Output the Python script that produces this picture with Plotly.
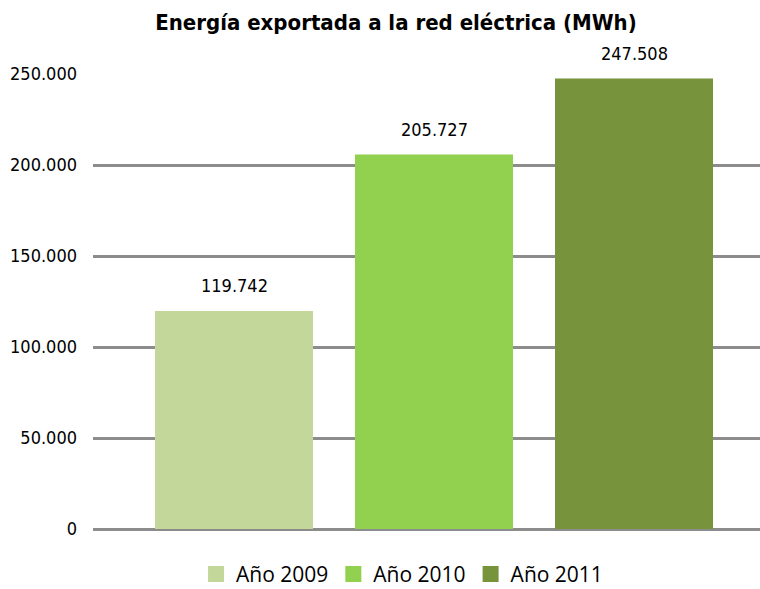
import plotly.graph_objects as go

series = ["Año 2009", "Año 2010", "Año 2011"]
positions = [0, 1, 2]
values = [119742, 205727, 247508]
labels = ["119.742", "205.727", "247.508"]
colors = ["#C4D79B", "#92D050", "#77933C"]
tickvals = [0, 50000, 100000, 150000, 200000, 250000]
ticktext = ["0", "50.000", "100.000", "150.000", "200.000", "250.000"]

fnt = "DejaVu Sans Condensed, Liberation Sans Narrow, Arial Narrow, sans-serif"

fig = go.Figure()
for s, p, v, c in zip(series, positions, values, colors):
    fig.add_trace(go.Bar(
        x=[p], y=[v], name=s, width=0.79, showlegend=False,
        marker=dict(color=c, line=dict(width=0)),
    ))
    # legend entry with a larger square symbol
    fig.add_trace(go.Scatter(
        x=[None], y=[None], name=s, mode="markers",
        marker=dict(symbol="square", size=17, color=c),
    ))

for p, v, l in zip(positions, values, labels):
    fig.add_annotation(x=p, y=v, text=l, showarrow=False, xanchor="center",
                       yanchor="bottom", yshift=13,
                       font=dict(family=fnt, size=18, color="#000000"))

fig.update_layout(
    width=760, height=589,
    paper_bgcolor="white", plot_bgcolor="white",
    margin=dict(l=93, r=0, t=74, b=60, autoexpand=False),
    barmode="overlay",
    title=dict(text="<b>Energía exportada a la red eléctrica (MWh)</b>",
               x=0.521, xanchor="center", y=0.9626, yanchor="middle",
               font=dict(family=fnt, size=22, color="#000000")),
    xaxis=dict(range=[-0.705, 2.63], showticklabels=False, showgrid=False,
               zeroline=False, showline=False),
    yaxis=dict(range=[0, 250000], tickvals=tickvals, ticktext=ticktext,
               showgrid=True, gridcolor="#8C8C8C", gridwidth=3,
               zeroline=True, zerolinecolor="#8C8C8C", zerolinewidth=3,
               showline=False, ticks="",
               tickfont=dict(family=fnt, size=18, color="#000000"),
               ticklabelstandoff=15),
    legend=dict(orientation="h", xref="container", x=0.529, xanchor="center",
                yref="container", y=0.025, yanchor="middle",
                font=dict(family="Open Sans, sans-serif", size=21, color="#000000"),
                itemwidth=30, traceorder="normal"),
    showlegend=True,
)
fig.write_html("out.html", config={"displayModeBar": False},
               post_script="document.body.style.margin='0';")
